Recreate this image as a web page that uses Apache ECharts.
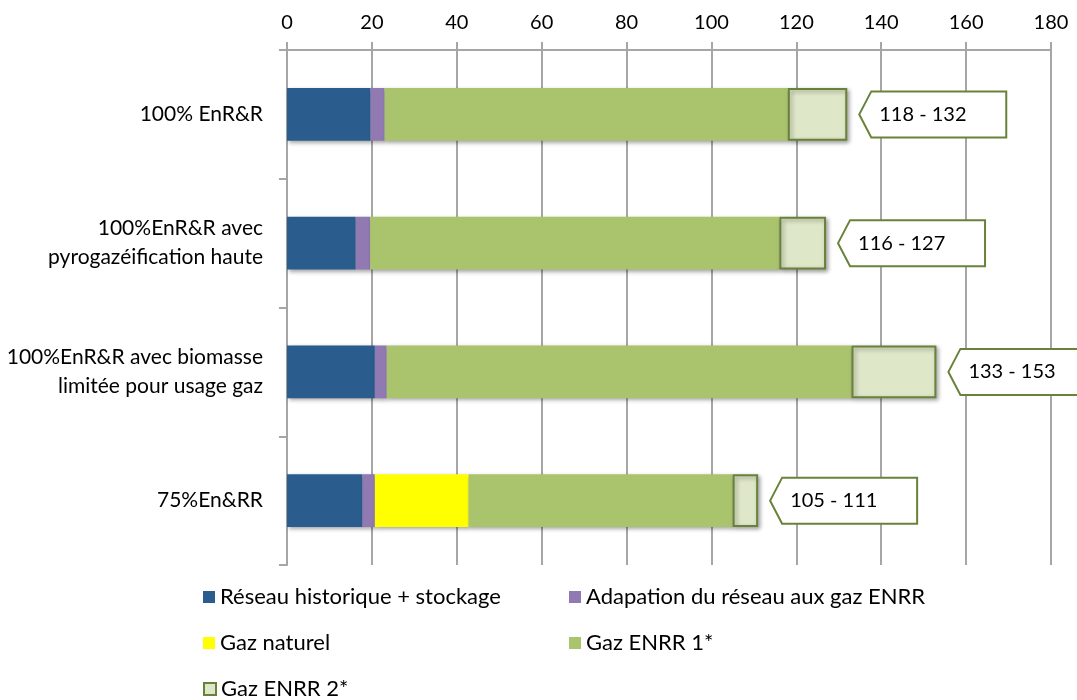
<!DOCTYPE html>
<html>
<head>
<meta charset="utf-8">
<title>Coûts par scénario</title>
<script src="https://cdn.jsdelivr.net/npm/echarts@6/dist/echarts.min.js"></script>
<style>
  html, body { margin: 0; padding: 0; background: #ffffff; }
  #chart { width: 1077px; height: 700px; }
</style>
</head>
<body>
<div id="chart"></div>
<script>
// Scenarios, top to bottom
const categories = [
  '100% EnR&R',
  '100%EnR&R avec\npyrogazéification haute',
  '100%EnR&R avec biomasse\nlimitée pour usage gaz',
  '75%En&RR'
];

// Stacked components per scenario
const reseauHistorique = [19.7, 16.2, 20.7, 17.8];
const adaptationReseau = [3.3, 3.4, 2.8, 2.9];
const gazNaturel       = [0, 0, 0, 22.1];
const gazEnrr1         = [95.0, 96.4, 109.5, 62.2];
const gazEnrr2         = [14, 11, 20, 6];

// Axis ticks along the top
const xTicks = [0, 20, 40, 60, 80, 100, 120, 140, 160, 180];

const seriesNames = [
  'Réseau historique + stockage',
  'Adapation du réseau aux gaz ENRR',
  'Gaz naturel',
  'Gaz ENRR 1*',
  'Gaz ENRR 2*'
];

const FONT = 'Lato, "Open Sans", sans-serif';
const GRID_GRAY = '#a6a6a6';
const OLIVE = '#68823a';

const shadow = {
  shadowBlur: 4,
  shadowOffsetX: 2,
  shadowOffsetY: 2,
  shadowColor: 'rgba(0,0,0,0.35)'
};

// Low/high range of each scenario: end of "Gaz ENRR 1*" and end of "Gaz ENRR 2*"
const round1 = v => Math.round(v * 10) / 10;
const rangeData = categories.map((c, i) => {
  const low = round1(reseauHistorique[i] + adaptationReseau[i] + gazNaturel[i] + gazEnrr1[i]);
  const high = round1(low + gazEnrr2[i]);
  return [high, i, low, high];
});

function barSeries(name, data, color, extra) {
  return Object.assign({
    name: name,
    type: 'bar',
    stack: 'total',
    barWidth: '41%',
    data: data,
    itemStyle: Object.assign({ color: color }, shadow)
  }, extra || {});
}

// Callout box with a left-pointing tip, placed just after the end of each bar
function renderCallout(params, api) {
  const p = api.coord([api.value(0), api.value(1)]);
  const x0 = p[0] + 12;
  const y = p[1];
  const h = 23, tip = 12, w = 147;
  return {
    type: 'group',
    children: [
      {
        type: 'polygon',
        shape: {
          points: [
            [x0, y], [x0 + tip, y - h], [x0 + w, y - h],
            [x0 + w, y + h], [x0 + tip, y + h]
          ]
        },
        style: { fill: '#ffffff', stroke: OLIVE, lineWidth: 2 }
      },
      {
        type: 'text',
        style: {
          x: x0 + 20,
          y: y,
          text: Math.round(api.value(2)) + ' - ' + Math.round(api.value(3)),
          fill: '#000000',
          font: '20px ' + FONT,
          verticalAlign: 'middle',
          align: 'left'
        }
      }
    ]
  };
}

function legendAt(name, left, top) {
  return {
    data: [name],
    left: left,
    top: top,
    orient: 'horizontal',
    icon: 'rect',
    itemWidth: 12,
    itemHeight: 12,
    selectedMode: false,
    textStyle: { fontFamily: FONT, fontSize: 22, color: '#000000' }
  };
}

const chart = echarts.init(document.getElementById('chart'), null, { renderer: 'canvas' });

chart.setOption({
  animation: false,
  backgroundColor: '#ffffff',
  textStyle: { fontFamily: FONT },
  grid: { left: 287, right: 26, top: 50, bottom: 135, containLabel: false },
  legend: [
    legendAt(seriesNames[0], 198, 581),
    legendAt(seriesNames[1], 564, 581),
    legendAt(seriesNames[2], 198, 627),
    legendAt(seriesNames[3], 564, 627),
    legendAt(seriesNames[4], 198, 673)
  ],
  xAxis: {
    type: 'value',
    position: 'top',
    min: xTicks[0],
    max: xTicks[xTicks.length - 1],
    interval: xTicks[1] - xTicks[0],
    axisLine: { show: true, lineStyle: { color: GRID_GRAY, width: 2 } },
    axisTick: { show: true, length: 8, lineStyle: { color: GRID_GRAY, width: 2 } },
    axisLabel: { fontFamily: FONT, fontSize: 20, color: '#000000', margin: 17 },
    splitLine: { show: true, lineStyle: { color: GRID_GRAY, width: 2 } }
  },
  yAxis: {
    type: 'category',
    inverse: true,
    data: categories,
    axisLine: { show: true, lineStyle: { color: GRID_GRAY, width: 2 } },
    axisTick: { show: true, length: 8, lineStyle: { color: GRID_GRAY, width: 2 } },
    axisLabel: {
      fontFamily: FONT, fontSize: 21, color: '#000000',
      margin: 24, lineHeight: 29, align: 'right'
    },
    splitLine: { show: false }
  },
  series: [
    barSeries(seriesNames[0], reseauHistorique, '#2a5d8d'),
    barSeries(seriesNames[1], adaptationReseau, '#9179b1'),
    barSeries(seriesNames[2], gazNaturel, '#ffff00'),
    barSeries(seriesNames[3], gazEnrr1, '#aac46e'),
    {
      name: seriesNames[4],
      type: 'bar',
      stack: 'total',
      barWidth: '41%',
      data: gazEnrr2,
      itemStyle: Object.assign({
        color: '#dfe7c9',
        borderColor: OLIVE,
        borderWidth: 2
      }, shadow)
    },
    {
      name: 'range',
      type: 'custom',
      renderItem: renderCallout,
      data: rangeData,
      encode: { x: 0, y: 1 },
      silent: true,
      z: 5
    }
  ]
});
</script>
</body>
</html>
